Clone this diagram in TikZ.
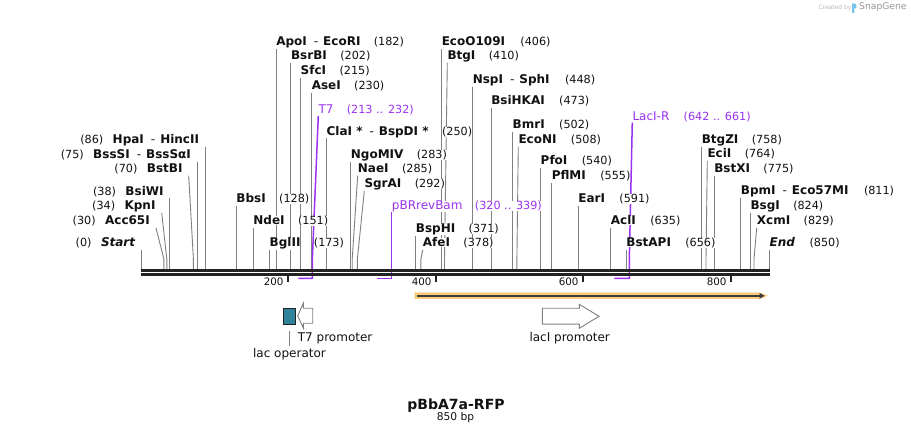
\documentclass[tikz,border=0pt]{standalone}
\usepackage{fontspec}
\setmainfont{DejaVu Sans}[ItalicFont={DejaVu Sans Oblique},BoldFont={DejaVu Sans Bold},BoldItalicFont={DejaVu Sans Bold Oblique}]
\usetikzlibrary{positioning,arrows.meta}
\pgfdeclarelayer{paper}
\pgfdeclarelayer{lines}
\pgfsetlayers{paper,lines,main}
\definecolor{txt}{RGB}{17,17,17}
\definecolor{cutgray}{RGB}{128,128,128}
\definecolor{prim}{RGB}{155,50,240}
\definecolor{bbone}{RGB}{34,34,34}
\definecolor{opteal}{RGB}{49,130,155}
\definecolor{orfor}{RGB}{254,206,122}
\definecolor{orfout}{RGB}{250,190,100}
\definecolor{orfline}{RGB}{60,60,60}
\definecolor{wmgray}{RGB}{185,185,185}
\definecolor{wmdark}{RGB}{150,150,150}
\definecolor{wmblue}{RGB}{120,195,235}
\newcommand{\dsh}{\hspace{7pt}\textmd{-}\hspace{5pt}}
\begin{document}
\begin{tikzpicture}[x=1pt,y=-1pt,
    enz/.style={inner sep=0pt,fill=white,text=txt,font=\fontsize{12}{14}\selectfont\bfseries},
    num/.style={inner sep=0pt,fill=white,text=txt,font=\fontsize{11.2}{13}\selectfont},
    prlbl/.style={inner sep=0pt,fill=white,text=prim,font=\fontsize{12}{14}\selectfont},
    prnum/.style={inner sep=0pt,fill=white,text=prim,font=\fontsize{11.2}{13}\selectfont},
    feat/.style={inner sep=0pt,text=txt,font=\fontsize{12}{14}\selectfont},
    ticklbl/.style={inner sep=0pt,text=txt,font=\fontsize{10.3}{12}\selectfont,anchor=base east},
    cut/.style={cutgray,line width=0.9pt},
    primline/.style={prim,line width=1.5pt},
    tickmark/.style={bbone,line width=2pt},
    promo/.style={draw=cutgray,fill=white,line width=0.9pt}]
    \useasboundingbox (0,0) rectangle (911,435);
    \begin{pgfonlayer}{paper}
    \fill[white] (0,0) rectangle (911,435);
    \end{pgfonlayer}
    % cut sites on the backbone
    \coordinate (s0) at (141.7,270);
    \coordinate (s30) at (163.9,270);
    \coordinate (s34) at (166.8,270);
    \coordinate (s38) at (169.8,270);
    \coordinate (s70) at (193.4,270);
    \coordinate (s75) at (197.1,270);
    \coordinate (s86) at (205.2,270);
    \coordinate (s128) at (236.2,270);
    \coordinate (s151) at (253.2,270);
    \coordinate (s173) at (269.5,270);
    \coordinate (s182) at (276.1,270);
    \coordinate (s202) at (290.9,270);
    \coordinate (s215) at (300.5,270);
    \coordinate (s230) at (311.6,270);
    \coordinate (s250) at (326.4,270);
    \coordinate (s283) at (350.7,270);
    \coordinate (s285) at (352.2,270);
    \coordinate (s292) at (357.4,270);
    \coordinate (s371) at (415.7,270);
    \coordinate (s378) at (420.9,270);
    \coordinate (s406) at (441.6,270);
    \coordinate (s410) at (444.5,270);
    \coordinate (s448) at (472.6,270);
    \coordinate (s473) at (491.1,270);
    \coordinate (s502) at (512.5,270);
    \coordinate (s508) at (516.9,270);
    \coordinate (s540) at (540.5,270);
    \coordinate (s555) at (551.6,270);
    \coordinate (s591) at (578.2,270);
    \coordinate (s635) at (610.7,270);
    \coordinate (s656) at (626.2,270);
    \coordinate (s758) at (701.6,270);
    \coordinate (s764) at (706.0,270);
    \coordinate (s775) at (714.1,270);
    \coordinate (s811) at (740.7,270);
    \coordinate (s824) at (750.3,270);
    \coordinate (s829) at (754.0,270);
    \coordinate (s850) at (769.5,270);
    % bends of the slanted lines
    \coordinate (k30) at (163.9,259);
    \coordinate (k34) at (166.8,259);
    \coordinate (k70) at (193.4,259);
    \coordinate (k285) at (352.2,259);
    \coordinate (k292) at (357.4,259);
    \coordinate (k378) at (420.9,259);
    \coordinate (k410) at (444.5,259);
    \coordinate (k508) at (516.9,259);
    \coordinate (k764) at (706.0,259);
    \coordinate (k829) at (754.0,259);
    % primer brackets
    \coordinate (t7k) at (312.3,260);
    \coordinate (t7e) at (312.3,278.5);
    \coordinate (t7s) at (298.3,278.5);
    \coordinate (pbre) at (391.7,278.5);
    \coordinate (pbrs) at (377,278.5);
    \coordinate (lack) at (629.3,260);
    \coordinate (lace) at (629.3,278.5);
    \coordinate (lacs) at (614.3,278.5);

    % enzymes, left of their lines
    \node[enz,anchor=base east] (hpai) at (199.2,143.7) {HpaI\dsh HincII};
    \node[num,base left=9pt of hpai] (hpainum) {(86)};
    \node[enz,anchor=base east] (bsssi) at (191.1,158.7) {BssSI\dsh BssSαI};
    \node[num,base left=9pt of bsssi] (bsssinum) {(75)};
    \node[enz,anchor=base east] (bstbi) at (182.7,172.7) {BstBI};
    \node[num,base left=9pt of bstbi] (bstbinum) {(70)};
    \node[enz,anchor=base east] (bsiwi) at (163.8,195.3) {BsiWI};
    \node[num,base left=9pt of bsiwi] (bsiwinum) {(38)};
    \node[enz,anchor=base east] (kpni) at (155.7,209.7) {KpnI};
    \node[num,base left=9pt of kpni] (kpninum) {(34)};
    \node[enz,anchor=base east] (acci) at (150,225) {Acc65I};
    \node[num,base left=9pt of acci] (accinum) {(30)};
    \node[enz,anchor=base east] (start) at (135.7,247) {\textit{Start}};
    \node[num,base left=9pt of start] (startnum) {(0)};

    % enzymes, right of their lines
    \node[enz,anchor=base west] (apoi) at (276.1,46) {ApoI\dsh EcoRI};
    \node[num,base right=13pt of apoi] (apoinum) {(182)};
    \node[enz,anchor=base west] (bsrbi) at (290.9,60) {BsrBI};
    \node[num,base right=13pt of bsrbi] (bsrbinum) {(202)};
    \node[enz,anchor=base west] (sfci) at (300.5,75) {SfcI};
    \node[num,base right=13pt of sfci] (sfcinum) {(215)};
    \node[enz,anchor=base west] (asei) at (311.6,90) {AseI};
    \node[num,base right=13pt of asei] (aseinum) {(230)};
    \node[enz,anchor=base west] (clai) at (326.4,135.3) {ClaI *\dsh BspDI *};
    \node[num,base right=13pt of clai] (clainum) {(250)};
    \node[enz,anchor=base west] (ngomiv) at (350.7,158.7) {NgoMIV};
    \node[num,base right=13pt of ngomiv] (ngomivnum) {(283)};
    \node[enz,anchor=base west] (naei) at (357.7,172.7) {NaeI};
    \node[num,base right=13pt of naei] (naeinum) {(285)};
    \node[enz,anchor=base west] (sgrai) at (364.3,188) {SgrAI};
    \node[num,base right=13pt of sgrai] (sgrainum) {(292)};
    \node[enz,anchor=base west] (bbsi) at (236.2,203) {BbsI};
    \node[num,base right=13pt of bbsi] (bbsinum) {(128)};
    \node[enz,anchor=base west] (ndei) at (253.2,225) {NdeI};
    \node[num,base right=13pt of ndei] (ndeinum) {(151)};
    \node[enz,anchor=base west] (bglii) at (269.5,247) {BglII};
    \node[num,base right=13pt of bglii] (bgliinum) {(173)};
    \node[enz,anchor=base west] (bsphi) at (415.7,233) {BspHI};
    \node[num,base right=13pt of bsphi] (bsphinum) {(371)};
    \node[enz,anchor=base west] (afei) at (422.7,247) {AfeI};
    \node[num,base right=13pt of afei] (afeinum) {(378)};
    \node[enz,anchor=base west] (ecoo) at (441.6,46) {EcoO109I};
    \node[num,base right=15pt of ecoo] (ecoonum) {(406)};
    \node[enz,anchor=base west] (btgi) at (447.3,60) {BtgI};
    \node[num,base right=13pt of btgi] (btginum) {(410)};
    \node[enz,anchor=base west] (nspi) at (472.6,83.7) {NspI\dsh SphI};
    \node[num,base right=15pt of nspi] (nspinum) {(448)};
    \node[enz,anchor=base west] (bsihkai) at (491.1,105) {BsiHKAI};
    \node[num,base right=14pt of bsihkai] (bsihkainum) {(473)};
    \node[enz,anchor=base west] (bmri) at (512.5,128.7) {BmrI};
    \node[num,base right=14pt of bmri] (bmrinum) {(502)};
    \node[enz,anchor=base west] (econi) at (518.3,143.7) {EcoNI};
    \node[num,base right=14pt of econi] (econinum) {(508)};
    \node[enz,anchor=base west] (pfoi) at (540.5,165) {PfoI};
    \node[num,base right=14pt of pfoi] (pfoinum) {(540)};
    \node[enz,anchor=base west] (pflmi) at (551.6,180) {PflMI};
    \node[num,base right=14pt of pflmi] (pflminum) {(555)};
    \node[enz,anchor=base west] (eari) at (578.2,203) {EarI};
    \node[num,base right=14pt of eari] (earinum) {(591)};
    \node[enz,anchor=base west] (acli) at (610.7,225) {AclI};
    \node[num,base right=14pt of acli] (aclinum) {(635)};
    \node[enz,anchor=base west] (bstapi) at (626.2,247) {BstAPI};
    \node[num,base right=14pt of bstapi] (bstapinum) {(656)};
    \node[enz,anchor=base west] (btgzi) at (701.6,143.7) {BtgZI};
    \node[num,base right=13pt of btgzi] (btgzinum) {(758)};
    \node[enz,anchor=base west] (ecii) at (707.3,158) {EciI};
    \node[num,base right=13pt of ecii] (eciinum) {(764)};
    \node[enz,anchor=base west] (bstxi) at (714.1,173) {BstXI};
    \node[num,base right=13pt of bstxi] (bstxinum) {(775)};
    \node[enz,anchor=base west] (bpmi) at (740.7,195) {BpmI\dsh Eco57MI};
    \node[num,base right=15pt of bpmi] (bpminum) {(811)};
    \node[enz,anchor=base west] (bsgi) at (750.3,210) {BsgI};
    \node[num,base right=13pt of bsgi] (bsginum) {(824)};
    \node[enz,anchor=base west] (xcmi) at (756.7,225) {XcmI};
    \node[num,base right=13pt of xcmi] (xcminum) {(829)};
    \node[enz,anchor=base west] (endl) at (769.5,247) {\textit{End}};
    \node[num,base right=14pt of endl] (endlnum) {(850)};

    % primers
    \node[prlbl,anchor=base west] (t7) at (318.3,113.3) {T7};
    \node[prnum,base right=13pt of t7] (t7num) {(213 .. 232)};
    \node[prlbl,anchor=base west] (pbr) at (391.7,209.5) {pBRrevBam};
    \node[prnum,base right=12pt of pbr] (pbrnum) {(320 .. 339)};
    \node[prlbl,anchor=base west] (lacir) at (632.3,120.5) {LacI-R};
    \node[prnum,base right=14pt of lacir] (lacirnum) {(642 .. 661)};

    % lines from the labels, kept under the texts
    \begin{pgfonlayer}{lines}
    \draw[cut] ([shift={(6pt,-3pt)}]hpai.base east) -- (s86);
    \draw[cut] ([shift={(6pt,-3pt)}]bsssi.base east) -- (s75);
    \draw[cut] ([shift={(6pt,-3pt)}]bstbi.base east) -- (k70) -- (s70);
    \draw[cut] ([shift={(6pt,-3pt)}]bsiwi.base east) -- (s38);
    \draw[cut] ([shift={(6pt,-3pt)}]kpni.base east) -- (k34) -- (s34);
    \draw[cut] ([shift={(6pt,-3pt)}]acci.base east) -- (k30) -- (s30);
    \draw[cut] ([shift={(6pt,-3pt)}]start.base east) -- (s0);
    \draw[cut] ([yshift=-3pt]apoi.base west) -- (s182);
    \draw[cut] ([yshift=-3pt]bsrbi.base west) -- (s202);
    \draw[cut] ([yshift=-3pt]sfci.base west) -- (s215);
    \draw[cut] ([yshift=-3pt]asei.base west) -- (s230);
    \draw[cut] ([yshift=-3pt]clai.base west) -- (s250);
    \draw[cut] ([yshift=-3pt]ngomiv.base west) -- (s283);
    \draw[cut] ([yshift=-3pt]naei.base west) -- (k285) -- (s285);
    \draw[cut] ([yshift=-3pt]sgrai.base west) -- (k292) -- (s292);
    \draw[cut] ([yshift=-3pt]bbsi.base west) -- (s128);
    \draw[cut] ([yshift=-3pt]ndei.base west) -- (s151);
    \draw[cut] ([yshift=-3pt]bglii.base west) -- (s173);
    \draw[cut] ([yshift=-3pt]bsphi.base west) -- (s371);
    \draw[cut] ([yshift=-3pt]afei.base west) -- (k378) -- (s378);
    \draw[cut] ([yshift=-3pt]ecoo.base west) -- (s406);
    \draw[cut] ([yshift=-3pt]btgi.base west) -- (k410) -- (s410);
    \draw[cut] ([yshift=-3pt]nspi.base west) -- (s448);
    \draw[cut] ([yshift=-3pt]bsihkai.base west) -- (s473);
    \draw[cut] ([yshift=-3pt]bmri.base west) -- (s502);
    \draw[cut] ([yshift=-3pt]econi.base west) -- (k508) -- (s508);
    \draw[cut] ([yshift=-3pt]pfoi.base west) -- (s540);
    \draw[cut] ([yshift=-3pt]pflmi.base west) -- (s555);
    \draw[cut] ([yshift=-3pt]eari.base west) -- (s591);
    \draw[cut] ([yshift=-3pt]acli.base west) -- (s635);
    \draw[cut] ([yshift=-3pt]bstapi.base west) -- (s656);
    \draw[cut] ([yshift=-3pt]btgzi.base west) -- (s758);
    \draw[cut] ([yshift=-3pt]ecii.base west) -- (k764) -- (s764);
    \draw[cut] ([yshift=-3pt]bstxi.base west) -- (s775);
    \draw[cut] ([yshift=-3pt]bpmi.base west) -- (s811);
    \draw[cut] ([yshift=-3pt]bsgi.base west) -- (s824);
    \draw[cut] ([yshift=-3pt]xcmi.base west) -- (k829) -- (s829);
    \draw[cut] ([yshift=-3pt]endl.base west) -- (s850);
    \draw[primline] ([yshift=-2.5pt]t7.base west) -- (t7k) -- (t7e) -- (t7s);
    \draw[primline] ([yshift=-3pt]pbr.base west) -- (pbre) -- (pbrs);
    \draw[primline] ([yshift=-2pt]lacir.base west) -- (lack) -- (lace) -- (lacs);
    \end{pgfonlayer}

    % backbone and ruler
    \draw[bbone,line width=2.6pt] (141,270.3) -- (769.8,270.3);
    \draw[bbone,line width=2.6pt] (141,274.3) -- (769.8,274.3);
    \draw[tickmark] (287.7,274) -- (287.7,282.5);
    \node[ticklbl] (t200) at (283.7,286) {200};
    \draw[tickmark] (435.7,274) -- (435.7,282.5);
    \node[ticklbl] (t400) at (431.7,286) {400};
    \draw[tickmark] (582.7,274) -- (582.7,282.5);
    \node[ticklbl] (t600) at (578.7,286) {600};
    \draw[tickmark] (730.7,274) -- (730.7,282.5);
    \node[ticklbl] (t800) at (726.7,286) {800};

    % features
    \filldraw[fill=orfor,draw=orfout,line width=0.6pt] (415,293) -- (759.5,293) -- (766.7,295.8) -- (759.5,298.6) -- (415,298.6) -- cycle;
    \draw[orfline,line width=2pt,-{Triangle[length=5pt,width=5.5pt]}] (417,295.8) -- (764.5,295.8);
    \node[draw=bbone,fill=opteal,line width=0.9pt,inner sep=0pt,minimum width=12pt,minimum height=15.5pt] (lacop) at (289.5,316.3) {};
    \node[feat,anchor=base] (lacoplbl) at (289.5,357.2) {lac operator};
    \draw[cut] ([yshift=-7pt]lacop.south) -- ([yshift=2pt]lacoplbl.north);
    \draw[promo] (312.7,308.3) -- (303.3,308.3) -- (303.3,303.3) -- (297.7,315.7) -- (303.3,328) -- (303.3,323.3) -- (312.7,323.3) -- cycle;
    \node[feat,anchor=base west] (t7prom) at (297.7,341.5) {T7 promoter};
    \draw[promo] (542.3,308.3) -- (579.3,308.3) -- (579.3,304.3) -- (599,316.3) -- (579.3,328.3) -- (579.3,324.2) -- (542.3,324.2) -- cycle;
    \node[feat,anchor=base] (laciprom) at (569.7,341.5) {lacI promoter};

    % title
    \node[inner sep=0pt,text=txt,font=\fontsize{14}{16}\selectfont\bfseries,anchor=base] (ttl) at (456,409.5) {pBbA7a-RFP};
    \node[inner sep=0pt,text=txt,font=\fontsize{10.7}{12}\selectfont,anchor=base] (ttlbp) at (455.5,421) {850 bp};

    % watermark
    \node[inner sep=0pt,text=wmgray,font=\fontsize{6}{7}\selectfont,anchor=west] (wmby) at (818.3,7.5) {Created by};
    \fill[wmblue] (852,13) -- (852,3.3) .. controls (856,3.3) and (857.5,5) .. (856.6,7.3) -- (854.4,8.8) -- (854.4,13) -- cycle;
    \node[inner sep=0pt,text=wmdark,font=\fontsize{9.2}{10}\selectfont,anchor=west] (wmsg) at (859,7.5) {SnapGene};
\end{tikzpicture}
\end{document}
